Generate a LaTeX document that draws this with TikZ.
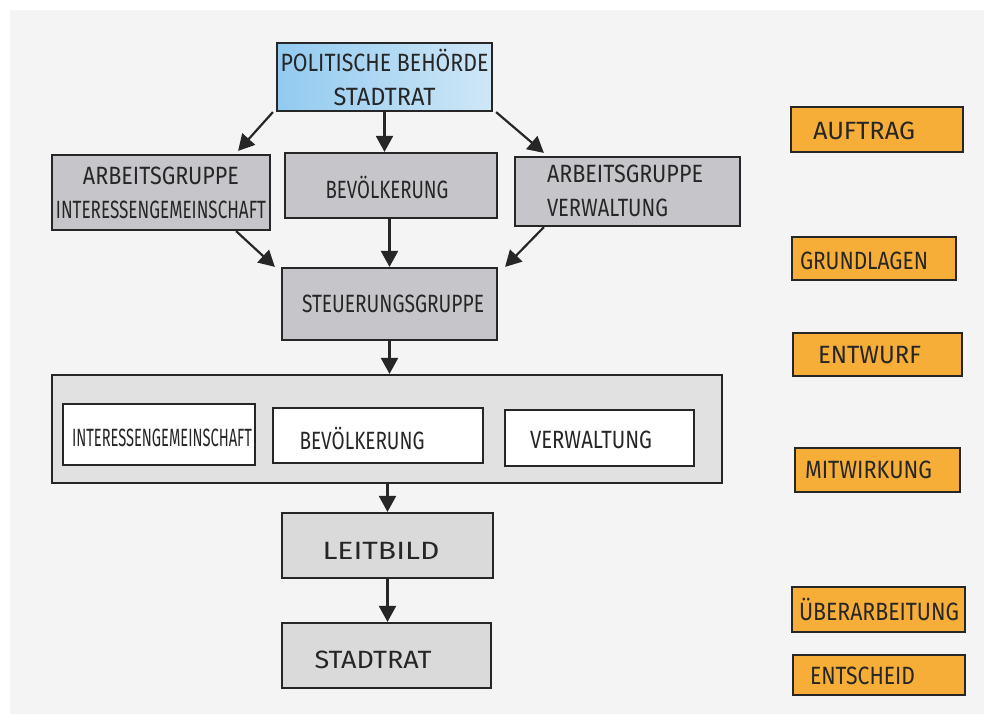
\documentclass[tikz,border=0pt]{standalone}
\usepackage{fontspec}
\setmainfont{Fira Sans}
\usepackage{graphicx}
\usetikzlibrary{arrows.meta,calc}
\definecolor{ink}{HTML}{262626}
\definecolor{paper}{HTML}{F4F4F4}
\definecolor{boxgray}{HTML}{C6C6CA}
\definecolor{lightgray}{HTML}{DADADA}
\definecolor{contgray}{HTML}{E1E1E1}
\definecolor{orangebox}{HTML}{F6AE38}
\definecolor{blueL}{HTML}{92CAF0}
\definecolor{blueR}{HTML}{CFE7F6}
\newcommand\fitw[2]{\resizebox{#1pt}{\height}{#2}}
\tikzset{
  x=1pt, y=-1pt,
  frame/.style={draw=ink, line width=2.2pt, inner sep=0pt, rectangle},
  gbox/.style={frame, fill=boxgray},
  lbox/.style={frame, fill=lightgray},
  wbox/.style={frame, fill=white},
  obox/.style={frame, fill=orangebox},
  bbox/.style={frame, left color=blueL, right color=blueR},
  cbox/.style={frame, fill=contgray},
  txt/.style={inner sep=0pt, text=ink, font=\fontsize{25}{34}\selectfont, align=center},
  arr/.style={draw=ink, line width=2.2pt, -{Triangle[length=16pt,width=17pt]}}
}
\begin{document}
\begin{tikzpicture}
\useasboundingbox (0,0) rectangle (988,722);
\fill[white] (0,0) rectangle (988,722);
\fill[paper] (10,10) rectangle (984,714);

% main boxes
\node[bbox, minimum width=215pt, minimum height=68pt] (pol) at (384.5,77) {};
\node[txt] (polt) at (pol.center) {\fitw{208}{POLITISCHE BEHÖRDE}\\\fitw{102}{STADTRAT}};

\node[gbox, minimum width=218pt, minimum height=75pt] (ag1) at (161,192.5) {};
\node[txt] (ag1t) at (ag1.center) {\fitw{156}{ARBEITSGRUPPE}\\\fitw{210}{INTERESSENGEMEINSCHAFT}};

\node[gbox, minimum width=212pt, minimum height=65pt] (bev) at (391,185.5) {};
\node[txt] (bevt) at (387,187) {\fitw{123}{BEVÖLKERUNG}};

\node[gbox, minimum width=225pt, minimum height=69pt] (ag2) at (627.5,191.5) {};
\node[txt, align=left] (ag2t) at (625,191) {\fitw{156}{ARBEITSGRUPPE}\\\fitw{121}{VERWALTUNG}};

\node[gbox, minimum width=215pt, minimum height=72pt] (st) at (389.5,304) {};
\node[txt] (stt) at (393,304) {\fitw{182}{STEUERUNGSGRUPPE}};

\node[cbox, minimum width=670pt, minimum height=108pt] (cont) at (387,429) {};
\node[wbox, minimum width=192pt, minimum height=61pt] (ig) at (159,434.5) {};
\node[txt] (igt) at (162,438) {\fitw{180}{INTERESSENGEMEINSCHAFT}};
\node[wbox, minimum width=210pt, minimum height=55pt] (bev2) at (378,435.5) {};
\node[txt] (bev2t) at (362,438) {\fitw{125}{BEVÖLKERUNG}};
\node[wbox, minimum width=189pt, minimum height=56pt] (ver) at (599.5,438) {};
\node[txt] (vert) at (591,440) {\fitw{122}{VERWALTUNG}};

\node[lbox, minimum width=211pt, minimum height=65pt] (lb) at (387.5,545.5) {};
\node[txt] (lbt) at (381,551) {\fitw{117}{LEITBILD}};

\node[lbox, minimum width=209pt, minimum height=65pt] (sr) at (386.5,655.5) {};
\node[txt] (srt) at (373,660) {\fitw{117}{STADTRAT}};

% orange phase boxes
\node[obox, minimum width=172pt, minimum height=45pt] (p1) at (877,129.5) {};
\node[txt] (p1t) at (864,131) {\fitw{102}{AUFTRAG}};
\node[obox, minimum width=164pt, minimum height=43pt] (p2) at (874,258.5) {};
\node[txt] (p2t) at (864,261) {\fitw{128}{GRUNDLAGEN}};
\node[obox, minimum width=169pt, minimum height=43pt] (p3) at (877.5,354.5) {};
\node[txt] (p3t) at (869.5,355) {\fitw{103}{ENTWURF}};
\node[obox, minimum width=165pt, minimum height=44pt] (p4) at (877.5,470) {};
\node[txt] (p4t) at (868.5,470) {\fitw{127}{MITWIRKUNG}};
\node[obox, minimum width=173pt, minimum height=45pt] (p5) at (878.5,609.5) {};
\node[txt] (p5t) at (879,609) {\fitw{160}{ÜBERARBEITUNG}};
\node[obox, minimum width=172pt, minimum height=40pt] (p6) at (879,675) {};
\node[txt] (p6t) at (862.5,676) {\fitw{105}{ENTSCHEID}};

% arrows
\draw[arr] ([xshift=-3pt]pol.south west) -- ([xshift=-33pt,yshift=3pt]ag1.north east);
\draw[arr] (pol.south) -- (pol.south |- bev.north);
\draw[arr] ([xshift=3pt]pol.south east) -- ([xshift=30pt,yshift=3pt]ag2.north west);
\draw[arr] ([xshift=-35pt]ag1.south east) -- ([xshift=-6pt]st.north west);
\draw[arr] (st.north |- bev.south) -- (st.north);
\draw[arr] ([xshift=30pt]ag2.south west) -- ([xshift=7pt]st.north east);
\draw[arr] (st.south) -- (st.south |- cont.north);
\draw[arr] (lb.north |- cont.south) -- (lb.north);
\draw[arr] (lb.south) -- (lb.south |- sr.north);
\end{tikzpicture}
\end{document}
